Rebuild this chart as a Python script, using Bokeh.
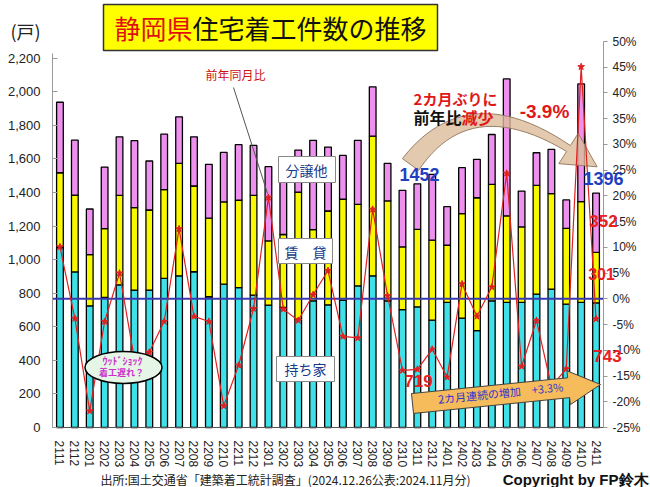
import math
from bokeh.plotting import figure
from bokeh.models import (Range1d, LinearAxis, FixedTicker, NumeralTickFormatter,
                          PrintfTickFormatter, Label, BoxAnnotation, ColumnDataSource)
from bokeh.embed import file_html
from bokeh.resources import INLINE

# ---------------- data ----------------
months = ["2111", "2112", "2201", "2202", "2203", "2204", "2205", "2206", "2207", "2208",
          "2209", "2210", "2211", "2212", "2301", "2302", "2303", "2304", "2305", "2306",
          "2307", "2308", "2309", "2310", "2311", "2312", "2401", "2402", "2403", "2404",
          "2405", "2406", "2407", "2408", "2409", "2410", "2411"]
owner = [1072, 927, 725, 775, 850, 819, 819, 888, 904, 928, 779, 854, 834, 789, 729, 715,
         646, 755, 731, 759, 844, 904, 755, 702, 719, 640, 745, 652, 577, 755, 745, 745,
         795, 825, 735, 745, 743]
rental = [446, 458, 305, 410, 533, 491, 477, 529, 670, 511, 468, 490, 520, 594, 383, 435,
          757, 424, 559, 601, 486, 832, 595, 374, 462, 476, 341, 622, 792, 694, 516, 450,
          648, 568, 452, 601, 301]
condo = [420, 327, 272, 367, 349, 399, 292, 331, 277, 293, 321, 295, 331, 298, 442, 390,
         250, 532, 381, 261, 381, 294, 224, 337, 271, 392, 230, 274, 229, 297, 816, 214,
         194, 264, 169, 701, 352]
yoy = [10.1, -3.8, -21.8, -4.4, 5.0, -11.7, -10.4, -4.4, 13.6, -3.4, -4.4, -20.8, -12.9,
       -1.9, 19.7, -2.0, -4.2, 0.8, 5.5, -7.3, -7.6, 17.4, 0.6, -13.9, -13.7, -9.8, -15.2,
       2.9, -3.4, 2.3, 24.4, -13.1, -4.2, -17.0, -13.6, 45.1, -3.9]
left_ticks = list(range(0, 2201, 200))
right_ticks = list(range(-25, 51, 5))

# ---------------- layout ----------------
# The frame covers the whole canvas; the axes are pinned with fixed_location
# so that every annotation (title, source, call-outs) stays inside the frame.
W, H = 650, 487
AL, AR, AT, AB = 52, 603, 41, 427        # pixel box of the chart area
N = len(months)
LMAX = 2300                                # left axis value at the top of chart area
PLO, PHI = -25, 50                         # right axis range over chart area
xs = N / (AR - AL)                         # data per pixel (x)
ys = LMAX / (AB - AT)                      # data per pixel (left y)
ps = (PHI - PLO) / (AB - AT)               # data per pixel (right y)

x0 = -0.5 - AL * xs
x1 = -0.5 + (W - AL) * xs
y0 = -(H - AB) * ys
y1 = AB * ys
p0 = PLO - (H - AB) * ps
p1 = PLO + AB * ps

def dx(px):
    return x0 + px * xs

def dy(py):
    return (AB - py) * ys

p = figure(width=W, height=H, output_backend="svg", toolbar_location=None,
           x_range=Range1d(x0, x1), y_range=Range1d(y0, y1),
           min_border_left=0, min_border_right=0, min_border_top=0,
           min_border_bottom=0)
p.outline_line_color = None
p.xgrid.visible = False
p.ygrid.visible = False
p.background_fill_color = "white"
p.border_fill_color = "white"

p.extra_y_ranges = {"pct": Range1d(p0, p1)}

src = ColumnDataSource(dict(x=list(range(N)), owner=owner, rental=rental, condo=condo,
                            yoy=yoy))
p.vbar_stack(["owner", "rental", "condo"], x="x", width=0.45, source=src,
             fill_color=["#3fe0e8", "#f8f800", "#ee90ee"], line_color="black",
             line_width=1.3)

# zero % line
p.line(x=[-0.5, N - 0.5], y=[0, 0], y_range_name="pct", line_color="#3a3ab0",
       line_width=2)

# curved arrow (decoration)
P0, P1, P2 = (410, 164), (468, 84), (568, 148)
left_side, right_side = [], []
steps = 24
for i in range(steps + 1):
    t = i / steps
    bx = (1 - t) ** 2 * P0[0] + 2 * (1 - t) * t * P1[0] + t ** 2 * P2[0]
    by = (1 - t) ** 2 * P0[1] + 2 * (1 - t) * t * P1[1] + t ** 2 * P2[1]
    tx = 2 * (1 - t) * (P1[0] - P0[0]) + 2 * t * (P2[0] - P1[0])
    ty = 2 * (1 - t) * (P1[1] - P0[1]) + 2 * t * (P2[1] - P1[1])
    L = math.hypot(tx, ty)
    nx, ny = -ty / L, tx / L
    w = 10 - 6.5 * t
    left_side.append((bx + w * nx, by + w * ny))
    right_side.append((bx - w * nx, by - w * ny))
ux, uy = tx / L, ty / L
nx, ny = -uy, ux
head = [(P2[0] + 18 * nx, P2[1] + 18 * ny), (P2[0] + 34 * ux, P2[1] + 34 * uy),
        (P2[0] - 18 * nx, P2[1] - 18 * ny)]
poly = right_side + [head[2], head[1], head[0]] + left_side[::-1]
p.patch(x=[dx(a) for a, b in poly], y=[dy(b) for a, b in poly], fill_color="#dcbb9a",
        fill_alpha=0.8, line_color="#9a7f66", line_width=1)

# YoY line
p.line("x", "yoy", source=src, y_range_name="pct", line_color="#e02020", line_width=1.2)
p.scatter("x", "yoy", source=src, y_range_name="pct", marker="star", size=7,
          fill_color="#e02020", line_color="#e02020")

# ellipse (wood shock)
p.ellipse(x=[dx(123)], y=[dy(367)], width=77, height=32, width_units="screen",
          height_units="screen", fill_color="#e6f6e6", line_color="black", line_width=1.5)

# bottom orange arrow
S, T = (412, 403), (600, 384)
vx, vy = T[0] - S[0], T[1] - S[1]
L = math.hypot(vx, vy)
ux, uy = vx / L, vy / L
nx, ny = -uy, ux
B = (T[0] - 32 * ux, T[1] - 32 * uy)
arr = [(S[0] - 10 * nx, S[1] - 10 * ny), (B[0] - 10 * nx, B[1] - 10 * ny),
       (B[0] - 17 * nx, B[1] - 17 * ny), T, (B[0] + 17 * nx, B[1] + 17 * ny),
       (B[0] + 10 * nx, B[1] + 10 * ny), (S[0] + 10 * nx, S[1] + 10 * ny)]
p.patch(x=[dx(a) for a, b in arr], y=[dy(b) for a, b in arr], fill_color="#f6bb5a",
        line_color="#444444", line_width=1)

# ---------------- axes ----------------
ax = p.xaxis[0]
ax.fixed_location = 0
ax.bounds = (-0.5, N - 0.5)
ax.ticker = FixedTicker(ticks=list(range(N)))
ax.major_label_overrides = {i: m for i, m in enumerate(months)}
ax.major_label_orientation = -math.pi / 2
ax.major_label_text_font = "Liberation Sans"
ax.major_label_text_font_size = "12px"
ax.major_label_text_color = "#222222"
ax.major_tick_line_color = None
ax.minor_tick_line_color = None
ax.axis_line_color = "#555555"
ax.major_label_standoff = 7

ay = p.yaxis[0]
ay.fixed_location = -0.5
ay.bounds = (0, 2230)
ay.ticker = FixedTicker(ticks=left_ticks)
ay.formatter = NumeralTickFormatter(format="0,0")
ay.major_label_text_font = "Liberation Sans"
ay.major_label_text_font_size = "13px"
ay.major_label_text_color = "#222222"
ay.axis_line_color = "#999999"
ay.major_tick_in = 5
ay.major_tick_out = 0
ay.major_tick_line_color = "#999999"
ay.minor_tick_line_color = None
ay.major_label_standoff = 12

ar = LinearAxis(y_range_name="pct", ticker=FixedTicker(ticks=right_ticks),
                formatter=PrintfTickFormatter(format="%d%%"))
ar.fixed_location = N - 0.5
ar.bounds = (PLO, PHI)
ar.major_label_text_font = "Liberation Sans"
ar.major_label_text_font_size = "12px"
ar.major_label_text_color = "#222222"
ar.axis_line_color = "#999999"
ar.major_tick_out = 4
ar.major_tick_in = 0
ar.major_tick_line_color = "#999999"
ar.minor_tick_line_color = None
ar.major_label_standoff = 5
p.add_layout(ar, "right")

# ---------------- annotations ----------------
CJK = "Noto Sans CJK JP"

def box(bx0, by0, bx1, by1, fill, line, lw=1):
    p.add_layout(BoxAnnotation(left=dx(bx0), right=dx(bx1), top=dy(by0), bottom=dy(by1),
                               fill_color=fill, fill_alpha=1, line_color=line,
                               line_width=lw, line_alpha=1))

def label(px, py, text, size, color, font=CJK, style="normal", align="center",
          angle=0):
    p.add_layout(Label(x=dx(px), y=dy(py), text=text, text_font=font,
                       text_font_size=f"{size}px", text_color=color, text_font_style=style,
                       text_align=align, text_baseline="middle", angle=angle))

# title
box(103, 4, 437, 50, "#ffff00", "#333333", 1.5)
label(114, 27, "静岡県", 26, "#e01010", align="left")
label(192, 27, "住宅着工件数の推移", 26, "#111111", align="left")
label(25, 30, "(戸)", 18, "#222222")

# series labels
box(278, 156, 335, 182, "white", "#888888")
label(306, 169, "分譲他", 14, "#1a3a8a")
box(278, 238, 332, 263, "white", "#888888")
label(305, 251, "賃　貸", 14, "#1a3a8a")
box(276, 356, 334, 381, "white", "#888888")
label(305, 368, "持ち家", 14, "#1a3a8a")

# YoY label with leader
label(235, 74, "前年同月比", 12, "#cc1010")
p.line(x=[dx(233), dx(267)], y=[dy(87), dy(193)], line_color="#555555", line_width=1)

# wood shock texts
label(122, 360, "ｳｯﾄﾞｼｮｯｸ", 10, "#cc30cc", style="bold")
label(121, 372, "着工遅れ？", 9, "#cc30cc", style="bold")

# call-outs
label(455, 98, "2カ月ぶりに", 15, "#e01818", style="bold")
label(413, 116, "前年比", 16, "#111111", style="bold", align="left")
label(461, 116, "減少", 16, "#e01818", style="bold", align="left")
label(544, 111, "-3.9%", 19, "#e01818", font="Liberation Sans", style="bold")

label(419, 174, "1452", 18, "#1f3fbf", font="Liberation Sans", style="bold")
label(603, 178, "1396", 18, "#1f3fbf", font="Liberation Sans", style="bold")
label(603, 220, "352", 17, "#e82020", font="Liberation Sans", style="bold")
label(601, 273, "301", 16, "#e82020", font="Liberation Sans", style="bold")
label(607, 355, "743", 17, "#e82020", font="Liberation Sans", style="bold")
label(418, 380, "719", 17, "#e82020", font="Liberation Sans", style="bold")

label(500, 392, "2カ月連続の増加　+3.3%", 11, "#3333cc", angle=math.atan2(19, 188))

# source
label(100, 479, "出所:国土交通省「建築着工統計調査」(2024.12.26公表:2024.11月分)", 12,
      "#222222", align="left")
label(648, 479, "Copyright by FP鈴木", 15, "#111111", font="Liberation Sans",
      style="bold", align="right")

open("out.html", "w").write(file_html(p, INLINE))
